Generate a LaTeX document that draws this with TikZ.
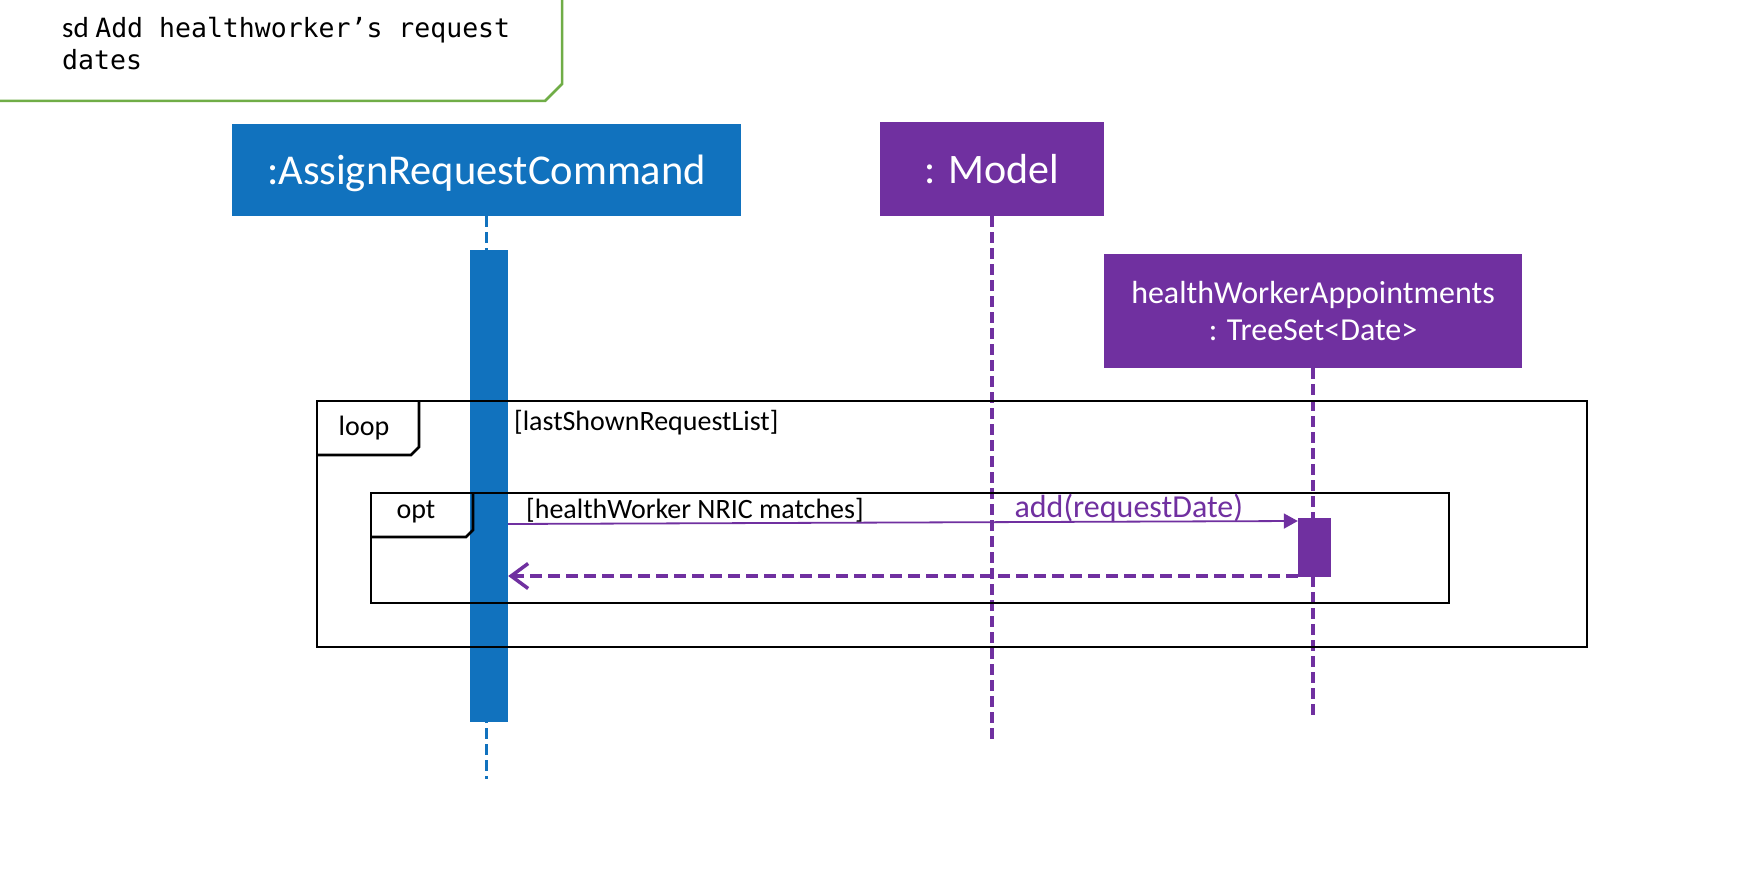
\documentclass[tikz,border=0pt]{standalone}
\usepackage{fontspec}
\setmainfont{Carlito}
\newfontfamily\codefont{DejaVu Sans Mono}
\usetikzlibrary{arrows.meta}
\definecolor{cmdblue}{HTML}{1172BE}
\definecolor{modelpurple}{HTML}{7030A0}
\definecolor{sdgreen}{HTML}{70AD47}

\begin{document}
\begin{tikzpicture}[x=1pt, y=-1pt,
    objbox/.style={rectangle, inner sep=0pt, text=white, align=center},
    lifeline/.style={line width=4pt, dash pattern=on 11pt off 5pt},
    actbar/.style={rectangle, inner sep=0pt},
    fragment/.style={draw=black, line width=2.6pt},
    fragtext/.style={font=\fontsize{28}{32}\selectfont, inner sep=0pt},
    call/.style={modelpurple, line width=1.8pt, -{Triangle[length=14pt,width=15pt]}},
    reply/.style={modelpurple, line width=3.5pt, dash pattern=on 12pt off 6pt, -{Straight Barb[length=17pt,width=25pt]}}]

  \useasboundingbox[fill=white] (0,0) rectangle (1746,890);

  % Frame title
  \draw[sdgreen, line width=2.5pt] (0,101) -- (545,101) -- (562,84) -- (562,0);
  \node[anchor=base west, inner sep=0pt, font=\fontsize{26.5}{32}\selectfont] (title1) at (62,38) {{\fontsize{29}{32}\selectfont sd }{\codefont Add healthworker’s request}};
  \node[anchor=base west, inner sep=0pt, font=\fontsize{26.5}{32}\selectfont] (title2) at (62,70) {\codefont dates};

  % Objects
  \node[objbox, fill=cmdblue, minimum width=509pt, minimum height=92pt, text depth=0pt, font=\fontsize{42.5}{50}\selectfont] (cmd) at (486.5,170) {:AssignRequestCommand};
  \node[objbox, fill=modelpurple, minimum width=224pt, minimum height=94pt, font=\fontsize{42}{50}\selectfont] (model) at (992,169) {: Model};
  \node[objbox, fill=modelpurple, minimum width=418pt, minimum height=114pt, font=\fontsize{32}{37}\selectfont] (appts) at (1313,311) {healthWorkerAppointments\\: TreeSet<Date>};

  % Lifelines
  \coordinate (cmdEnd) at (486.5,779);
  \coordinate (modelEnd) at (992,742);
  \coordinate (apptsEnd) at (1313,716);
  \draw[lifeline, cmdblue, line width=3.5pt] (cmd.south) -- (cmdEnd);
  \draw[lifeline, modelpurple] (model.south) -- (modelEnd);
  \draw[lifeline, modelpurple] (appts.south) -- (apptsEnd);

  % Activations
  \node[actbar, fill=cmdblue, minimum width=38pt, minimum height=472pt] (cmdAct) at (489,486) {};
  \node[actbar, fill=modelpurple, minimum width=33pt, minimum height=59pt] (apptsAct) at (1314.5,547.5) {};

  % loop fragment
  \draw[fragment] (317,401) rectangle (1587,647);
  \draw[fragment] (317,455) -- (411,455) -- (419,447) -- (419,401);
  \node[fragtext] (loopTag) at (364,428) {loop};
  \node[fragtext, anchor=west] (loopGuard) at (514,423) {[lastShownRequestList]};

  % opt fragment
  \draw[fragment] (371,493) rectangle (1449,603);
  \draw[fragment] (371,537) -- (466,537) -- (473,530) -- (473,493);
  \node[fragtext] (optTag) at (416,512) {opt};
  \node[fragtext, anchor=west] (optGuard) at (526,510) {[healthWorker NRIC matches]};

  % Messages
  \draw[call] (cmdAct.east |- 0,524) -- node[pos=0.786, anchor=south, inner sep=0pt, yshift=-2pt, font=\fontsize{32}{37}\selectfont] (addLabel) {add(requestDate)} (apptsAct.west |- 0,521);
  \draw[reply] (apptsAct.west |- 0,576) -- (cmdAct.east |- 0,576);
\end{tikzpicture}
\end{document}
